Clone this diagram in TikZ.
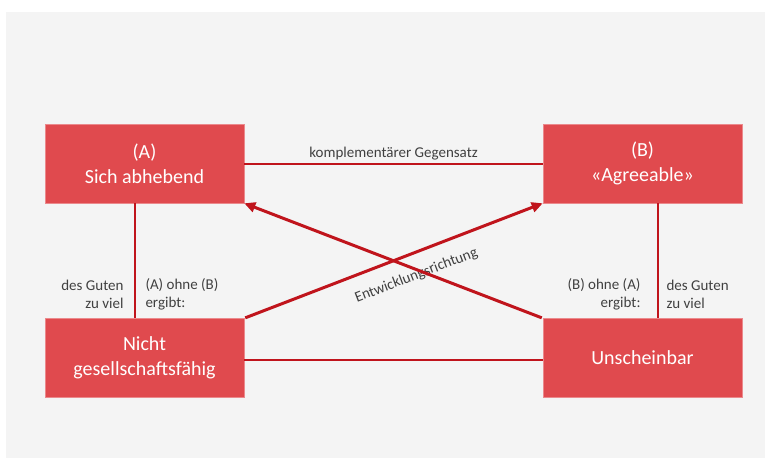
\documentclass[tikz,border=0pt]{standalone}
\usepackage{fontspec}
\setmainfont{Carlito}
\usetikzlibrary{arrows.meta}
\definecolor{boxred}{RGB}{224,74,78}
\definecolor{linered}{RGB}{192,20,28}
\definecolor{bggray}{RGB}{244,244,244}
\definecolor{labelgray}{RGB}{64,64,64}
\newcommand{\boxfont}{\fontsize{20}{25}\selectfont}
\newcommand{\labelfont}{\fontsize{15}{18}\selectfont}
\tikzset{
  redbox/.style={draw=boxred!65!white, line width=0.6pt, fill=boxred, text=white,
    minimum width=199pt, minimum height=79pt, align=center, font=\boxfont, inner sep=0pt},
  link/.style={draw=linered, line width=2pt},
  arrowlink/.style={draw=linered, line width=3pt, shorten <=1pt, -{Triangle[length=11pt,width=10pt]}},
}

\begin{document}
\begin{tikzpicture}[x=1pt,y=-1pt]
    \useasboundingbox[fill=white] (0,0) rectangle (765,458);
    \fill[bggray] (6,12) rectangle (765,458);

    \node[redbox] (A) at (144.5,163.5) {(A)\\Sich abhebend};
    \node[redbox] (B) at (642.5,163.5) {(B)\\«Agreeable»};
    \node[redbox] (C) at (144.5,358) {Nicht\\gesellschaftsfähig};
    \node[redbox] (D) at (642.5,358) {Unscheinbar};

    \path[every node/.style={font=\labelfont, text=labelgray, inner sep=2pt}]
    (A) edge [link] node [above] {komplementärer Gegensatz} (B)
    ([yshift=-2pt]C.east) edge [link] ([yshift=-2pt]D.west)
    ([xshift=-10pt]A.south) edge [link] node [pos=0.79, left=8pt, align=right] {des Guten\\zu viel}
        node [pos=0.79, right=8pt, align=left] {(A) ohne (B)\\ergibt:} ([xshift=-10pt]C.north)
    ([xshift=15pt]B.south) edge [link] node [pos=0.79, left=14pt, align=right] {(B) ohne (A)\\ergibt:}
        node [pos=0.79, right=6pt, align=left] {des Guten\\zu viel} ([xshift=15pt]D.north)
    (C.north east) edge [arrowlink] node [pos=0.55, sloped, below=12pt] {Entwicklungsrichtung} (B.south west)
    (D.north west) edge [arrowlink] (A.south east);
\end{tikzpicture}
\end{document}
